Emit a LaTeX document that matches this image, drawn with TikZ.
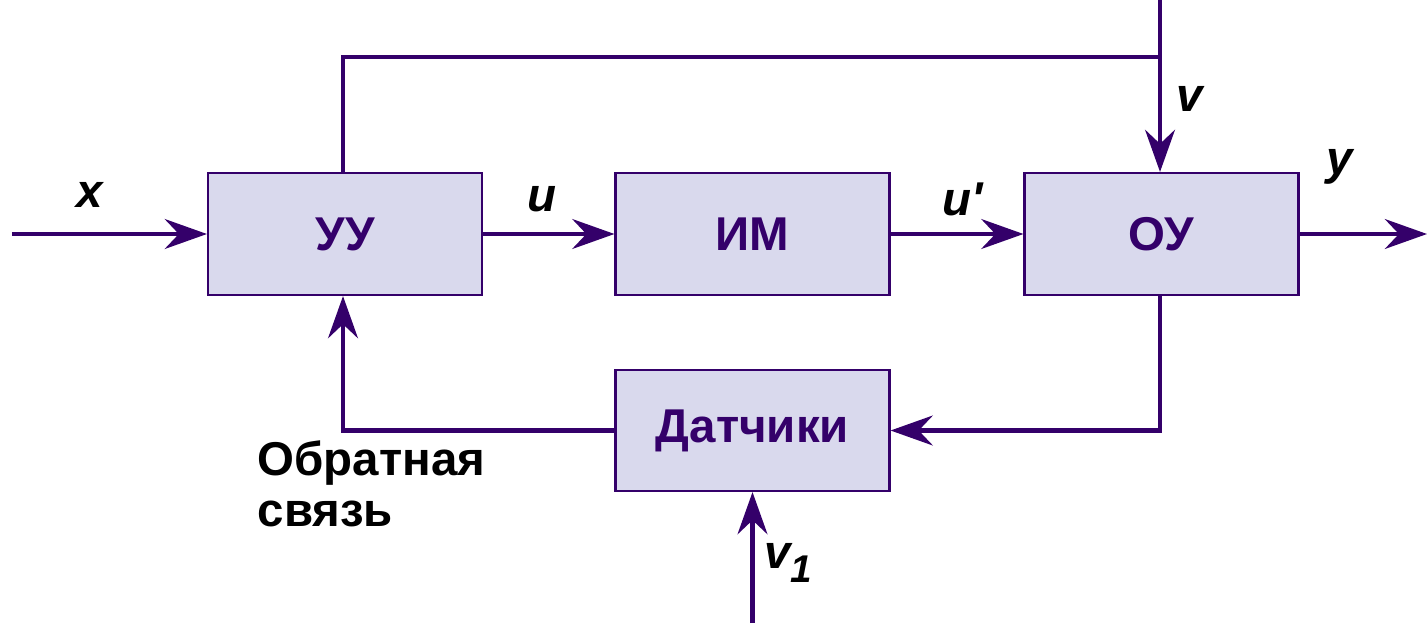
\documentclass[tikz,border=0pt]{standalone}
\usepackage{fontspec}
\setmainfont{Liberation Sans}
\usetikzlibrary{arrows.meta}

\definecolor{linec}{HTML}{34006A}
\definecolor{boxc}{HTML}{D9D9ED}

\begin{document}
\begin{tikzpicture}[
    blk/.style={draw=linec, line width=0.6pt, fill=boxc, minimum width=2.74cm,
                minimum height=1.22cm, inner sep=0pt, text=linec,
                font=\fontsize{13.5}{15}\selectfont\bfseries},
    sig/.style={font=\fontsize{13.5}{15}\selectfont\bfseries\itshape, inner sep=0pt},
    wire/.style={draw=linec, line width=1.15pt},
    >={Stealth[length=12pt, width=8.5pt, inset=4pt]},
]
\useasboundingbox (0,0) rectangle (14.27,6.23);
% main chain
\node[blk] (uu)  at (3.45,3.89)  {УУ};
\node[blk] (im)  at (7.525,3.89) {ИМ};
\node[blk] (ou)  at (11.615,3.89) {ОУ};
\node[blk, minimum height=1.21cm] (dat) at (7.525,1.925) {Датчики};
\coordinate (xin)  at (0.12,3.89);
\coordinate (yout) at (14.27,3.89);
\coordinate (vtop) at (11.6,6.23);
\coordinate (vj)   at (11.6,5.66);
\coordinate (v1in) at (7.525,0);
\draw[wire,->] (xin) -- (uu);
\draw[wire,->] (uu) -- (im);
\draw[wire,->] (im) -- (ou);
\draw[wire,->] (ou) -- (yout);
% disturbance v and the link from УУ
\draw[wire,->] (vtop) -- (vtop |- ou.north);
\draw[wire] (uu.north -| 3.43,0) -- (3.43,5.66) -- (vj);
% feedback loop
\draw[wire,->] (ou.south -| vj) |- (dat.east);
\draw[wire,->] (dat.west) -| (uu.south -| 3.43,0);
\draw[wire,->] (v1in) -- (dat.south);
% labels
\node[sig] (lx)  at (0.9,4.28)  {x};
\node[sig] (lu)  at (5.42,4.24) {u};
\node[sig] (lu2) at (9.63,4.24) {u\textquotesingle};
\node[sig] (lv)  at (11.9,5.24) {v};
\node[sig] (ly)  at (13.4,4.56) {y};
\node[sig] (lv1) at (7.88,0.6) {v\raisebox{-0.55ex}{\fontsize{11}{11}\selectfont 1}};
\node[anchor=north west, inner sep=0pt, align=left,
      font=\fontsize{13.5}{14.5}\selectfont\bfseries] (fb) at (2.57,1.83)
      {Обратная\\связь};
\end{tikzpicture}
\end{document}
